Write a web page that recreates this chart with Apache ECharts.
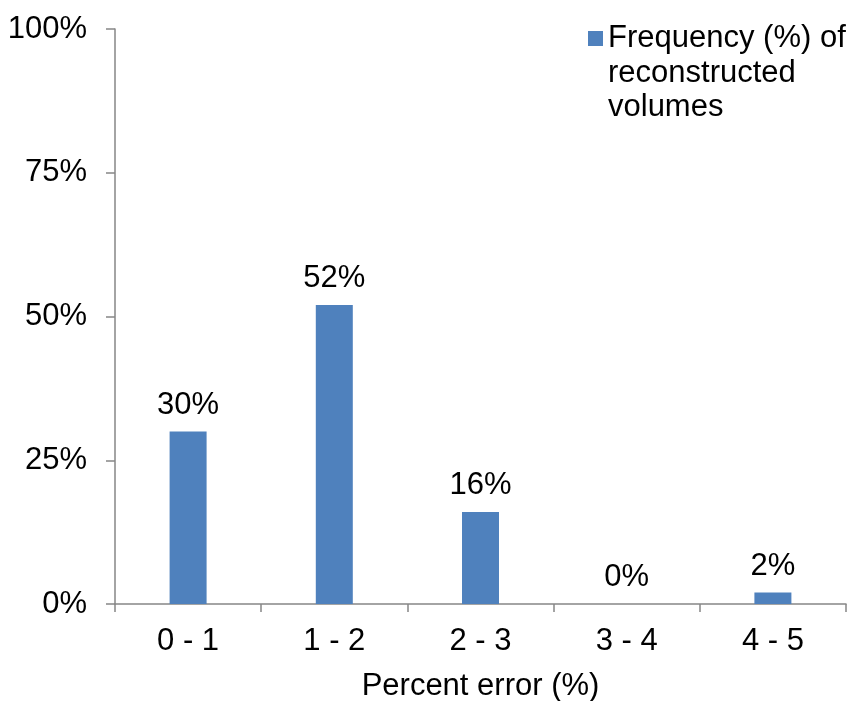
<!DOCTYPE html>
<html>
<head>
<meta charset="utf-8">
<script src="https://cdn.jsdelivr.net/npm/echarts@6/dist/echarts.min.js"></script>
<style>
  html, body { margin: 0; padding: 0; background: #ffffff; }
  #chart { width: 853px; height: 701px; }
</style>
</head>
<body>
<div id="chart"></div>
<script>
// Error bins and the share of reconstructed volumes that fall in each
const categories = ['0 - 1', '1 - 2', '2 - 3', '3 - 4', '4 - 5'];
const frequency = [30, 52, 16, 0, 2];
const yTicks = [0, 25, 50, 75, 100];
const seriesName = 'Frequency (%) of\nreconstructed\nvolumes';
const xAxisTitle = 'Percent error (%)';

const FONT = '"Liberation Sans", Arial, Helvetica, sans-serif';
const FONT_SIZE = 31;
const AXIS_GRAY = '#868686';
const BAR_BLUE = '#4F81BD';

const chart = echarts.init(document.getElementById('chart'), null, { renderer: 'canvas' });

chart.setOption({
  animation: false,
  backgroundColor: '#ffffff',
  textStyle: { fontFamily: FONT, color: '#000000' },
  grid: {
    left: 115, right: 7, top: 29, bottom: 97,
    containLabel: false,
    outerBoundsMode: 'none'
  },
  legend: {
    data: [seriesName],
    left: 588,
    top: -47.75,
    padding: 0,
    itemWidth: 15,
    itemHeight: 15,
    itemGap: 0,
    icon: 'rect',
    selectedMode: false,
    // two blank lines in front keep the swatch level with the first line
    formatter: function (name) { return '\n\n' + name; },
    textStyle: {
      fontFamily: FONT,
      fontSize: FONT_SIZE,
      color: '#000000',
      lineHeight: 34.5
    }
  },
  xAxis: {
    type: 'category',
    data: categories,
    boundaryGap: true,
    name: xAxisTitle,
    nameLocation: 'middle',
    nameGap: 67,
    nameTextStyle: { fontFamily: FONT, fontSize: FONT_SIZE, color: '#000000' },
    axisLine: { show: true, lineStyle: { color: AXIS_GRAY, width: 1.5 } },
    axisTick: { show: true, length: 8, alignWithLabel: false, lineStyle: { color: AXIS_GRAY, width: 1.5 } },
    axisLabel: { fontFamily: FONT, fontSize: FONT_SIZE, color: '#000000', margin: 22 },
    splitLine: { show: false }
  },
  yAxis: {
    type: 'value',
    min: yTicks[0],
    max: yTicks[yTicks.length - 1],
    interval: yTicks[1] - yTicks[0],
    axisLine: { show: true, lineStyle: { color: AXIS_GRAY, width: 1.5 } },
    axisTick: { show: true, length: 9, lineStyle: { color: AXIS_GRAY, width: 1.5 } },
    axisLabel: { fontFamily: FONT, fontSize: FONT_SIZE, color: '#000000', margin: 28, formatter: '{value}%' },
    splitLine: { show: false }
  },
  series: [{
    name: seriesName,
    type: 'bar',
    data: frequency,
    barWidth: 37,
    itemStyle: { color: BAR_BLUE },
    label: {
      show: true,
      position: 'top',
      distance: 11,
      fontFamily: FONT,
      fontSize: FONT_SIZE,
      color: '#000000',
      formatter: '{c}%'
    }
  }]
});
</script>
</body>
</html>
